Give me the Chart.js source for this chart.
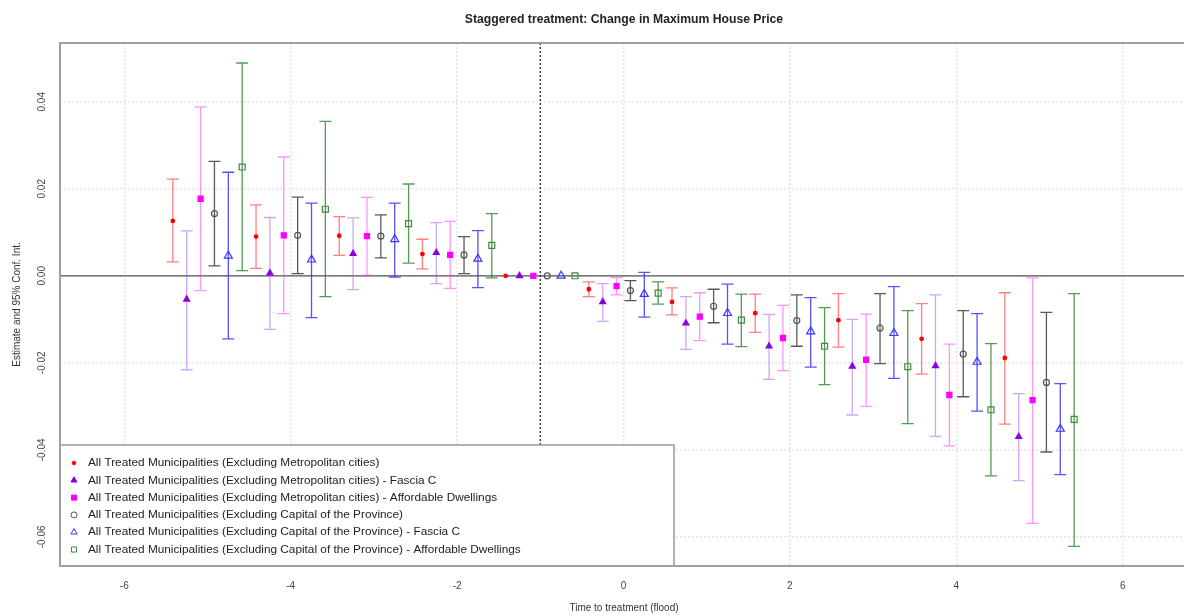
<!DOCTYPE html>
<html>
<head>
<meta charset="utf-8">
<script src="https://cdn.jsdelivr.net/npm/chart.js@4.4.1/dist/chart.umd.min.js"></script>
<style>
html,body{margin:0;padding:0;background:#fff;overflow:hidden}
canvas{display:block}
</style>
</head>
<body>
<canvas id="chart" width="1184" height="616"></canvas>
<script>
// periods relative to the flood
const periods=[-5,-4,-3,-2,-1,0,1,2,3,4,5];
const xTicks=[-6,-4,-2,0,2,4,6];
const yTicks=[-0.06,-0.04,-0.02,0,0.02,0.04];

const seriesNames=[
"All Treated Municipalities (Excluding Metropolitan cities)",
"All Treated Municipalities (Excluding Metropolitan cities) - Fascia C",
"All Treated Municipalities (Excluding Metropolitan cities) - Affordable Dwellings",
"All Treated Municipalities (Excluding Capital of the Province)",
"All Treated Municipalities (Excluding Capital of the Province) - Fascia C",
"All Treated Municipalities (Excluding Capital of the Province) - Affordable Dwellings"
];

const metroEst=[0.0126,0.0090,0.0092,0.0050,0,-0.0031,-0.0060,-0.0086,-0.0102,-0.0145,-0.0189];
const metroLo=[0.0032,0.0017,0.0047,0.0016,null,-0.0048,-0.0090,-0.0130,-0.0164,-0.0226,-0.0341];
const metroHi=[0.0222,0.0163,0.0136,0.0084,null,-0.0014,-0.0028,-0.0042,-0.0041,-0.0064,-0.0039];

const metroCEst=[-0.0054,0.0006,0.0051,0.0053,0,-0.0060,-0.0109,-0.0162,-0.0208,-0.0207,-0.0370];
const metroCLo=[-0.0216,-0.0123,-0.0032,-0.0018,null,-0.0105,-0.0169,-0.0238,-0.0320,-0.0369,-0.0471];
const metroCHi=[0.0103,0.0134,0.0133,0.0122,null,-0.0018,-0.0048,-0.0089,-0.0100,-0.0044,-0.0271];

const metroAEst=[0.0177,0.0093,0.0091,0.0048,0,-0.0024,-0.0094,-0.0143,-0.0193,-0.0274,-0.0286];
const metroALo=[-0.0034,-0.0087,0.0001,-0.0029,null,-0.0044,-0.0149,-0.0218,-0.0300,-0.0391,-0.0569];
const metroAHi=[0.0388,0.0273,0.0180,0.0125,null,-0.0004,-0.0039,-0.0068,-0.0088,-0.0157,-0.0005];

const capEst=[0.0143,0.0093,0.0091,0.0048,0,-0.0034,-0.0070,-0.0103,-0.0120,-0.0180,-0.0245];
const capLo=[0.0023,0.0005,0.0041,0.0005,null,-0.0057,-0.0108,-0.0162,-0.0202,-0.0278,-0.0405];
const capHi=[0.0263,0.0181,0.0140,0.0090,null,-0.0011,-0.0031,-0.0044,-0.0041,-0.0080,-0.0084];

const capCEst=[0.0046,0.0037,0.0084,0.0039,0,-0.0042,-0.0086,-0.0128,-0.0132,-0.0198,-0.0352];
const capCLo=[-0.0145,-0.0096,-0.0003,-0.0027,null,-0.0095,-0.0157,-0.0210,-0.0236,-0.0311,-0.0457];
const capCHi=[0.0238,0.0167,0.0167,0.0104,null,0.0008,-0.0019,-0.0050,-0.0025,-0.0087,-0.0248];

const capAEst=[0.0250,0.0153,0.0120,0.0070,0,-0.0040,-0.0102,-0.0162,-0.0209,-0.0308,-0.0330];
const capALo=[0.0012,-0.0048,0.0029,-0.0005,null,-0.0065,-0.0163,-0.0250,-0.0340,-0.0460,-0.0622];
const capAHi=[0.0489,0.0355,0.0211,0.0143,null,-0.0014,-0.0042,-0.0073,-0.0080,-0.0156,-0.0041];

const estimates=[metroEst,metroCEst,metroAEst,capEst,capCEst,capAEst];
const lows=[metroLo,metroCLo,metroALo,capLo,capCLo,capALo];
const highs=[metroHi,metroCHi,metroAHi,capHi,capCHi,capAHi];

// look of each series
const styles=[
{shape:"circle",r:1.8,fill:"#ff0000",stroke:"#ff0000",bar:"rgba(255,40,40,0.6)"},
{shape:"triangle",r:3.5,fill:"#8a00e6",stroke:"#8a00e6",bar:"rgba(160,80,230,0.5)"},
{shape:"rect",r:3.6,fill:"#ff00ff",stroke:"#ff00ff",bar:"rgba(255,60,255,0.55)"},
{shape:"circle",r:3,fill:"rgba(0,0,0,0)",stroke:"#555555",bar:"rgba(60,60,60,0.85)"},
{shape:"triangle",r:4.6,fill:"rgba(0,0,0,0)",stroke:"#3535ff",bar:"rgba(40,40,255,0.8)"},
{shape:"rect",r:4.2,fill:"rgba(0,0,0,0)",stroke:"#3b8c3b",bar:"rgba(40,130,40,0.8)"}
];

const shift=k=>(k-2.5)/6;

const datasets=estimates.map((est,k)=>({
label:seriesNames[k],
data:periods.map((p,i)=>({x:p+shift(k),y:est[i],lo:lows[k][i],hi:highs[k][i]})),
pointStyle:styles[k].shape,
pointRadius:styles[k].r,
pointBackgroundColor:styles[k].fill,
pointBorderColor:styles[k].stroke,
pointBorderWidth:1.2,
showLine:false
}));

const font="'Liberation Sans', Arial, sans-serif";

const errorBars={
id:"errorBars",
beforeDatasetsDraw(chart){
const {ctx,chartArea,scales:{x,y}}=chart;
ctx.save();
// zero line
ctx.strokeStyle="#555";
ctx.lineWidth=1.3;
ctx.beginPath();
ctx.moveTo(chartArea.left,y.getPixelForValue(0));
ctx.lineTo(chartArea.right+10,y.getPixelForValue(0));
ctx.stroke();
// treatment line
ctx.setLineDash([2,2]);
ctx.strokeStyle="#333";
ctx.lineWidth=1.5;
ctx.beginPath();
ctx.moveTo(x.getPixelForValue(-1),chartArea.top);
ctx.lineTo(x.getPixelForValue(-1),chartArea.bottom);
ctx.stroke();
ctx.setLineDash([]);
chart.data.datasets.forEach((ds,k)=>{
ctx.strokeStyle=styles[k].bar;
ctx.lineWidth=1.3;
ds.data.forEach(d=>{
if(d.lo==null||d.hi==null)return;
const px=x.getPixelForValue(d.x);
const y1=y.getPixelForValue(d.lo);
const y2=y.getPixelForValue(d.hi);
ctx.beginPath();
ctx.moveTo(px,y1);ctx.lineTo(px,y2);
ctx.moveTo(px-6,y1);ctx.lineTo(px+6,y1);
ctx.moveTo(px-6,y2);ctx.lineTo(px+6,y2);
ctx.stroke();
});
});
ctx.restore();
}
};

const decor={
id:"decor",
afterDraw(chart){
const {ctx,chartArea,scales:{y}}=chart;
ctx.save();
// y tick labels, rotated like base R
ctx.fillStyle="#444";
ctx.font="10px "+font;
ctx.textAlign="center";
ctx.textBaseline="middle";
yTicks.forEach(v=>{
ctx.save();
ctx.translate(42,y.getPixelForValue(v));
ctx.rotate(-Math.PI/2);
ctx.fillText(v.toFixed(2),0,0);
ctx.restore();
});
// axis titles
ctx.fillStyle="#333";
ctx.fillText("Time to treatment (flood)",624,608);
ctx.save();
ctx.translate(17,(chartArea.top+chartArea.bottom)/2);
ctx.rotate(-Math.PI/2);
ctx.fillText("Estimate and 95% Conf. Int.",0,0);
ctx.restore();
// main title
ctx.fillStyle="#222";
ctx.font="bold 12.2px "+font;
ctx.fillText("Staggered treatment: Change in Maximum House Price",624,20);
// legend box
const lx=chartArea.left,ly=445,lw=614,lh=chartArea.bottom-445;
ctx.fillStyle="#fff";
ctx.fillRect(lx,ly,lw,lh);
ctx.strokeStyle="#999";
ctx.lineWidth=1.5;
ctx.strokeRect(lx,ly,lw,lh);
ctx.font="11.8px "+font;
ctx.textAlign="left";
seriesNames.forEach((name,k)=>{
const yy=463+k*17.3;
ctx.fillStyle=styles[k].fill;
ctx.strokeStyle=styles[k].stroke;
ctx.lineWidth=1;
Chart.helpers.drawPoint(ctx,{pointStyle:styles[k].shape,radius:Math.min(styles[k].r,3.6),rotation:0,borderWidth:1},74,yy);
ctx.fillStyle="#222";
ctx.fillText(name,88,yy);
});
// frame
ctx.strokeStyle="#a0a0a0";
ctx.lineWidth=2;
ctx.beginPath();
ctx.moveTo(chartArea.right+5,chartArea.top);
ctx.lineTo(chartArea.left,chartArea.top);
ctx.lineTo(chartArea.left,chartArea.bottom);
ctx.lineTo(chartArea.right+5,chartArea.bottom);
ctx.stroke();
ctx.restore();
}
};

new Chart(document.getElementById("chart"),{
type:"scatter",
data:{datasets},
options:{
responsive:false,
animation:false,
devicePixelRatio:1,
layout:{autoPadding:false,padding:{top:43,left:0,right:0,bottom:0}},
plugins:{legend:{display:false},tooltip:{enabled:false}},
scales:{
x:{
type:"linear",min:-6.773,max:6.737,
afterBuildTicks:s=>{s.ticks=xTicks.map(v=>({value:v}))},
afterFit:s=>{s.height=50;s.paddingLeft=0;s.paddingRight=0},
grid:{color:"#e4e4e4",lineWidth:1.5,drawTicks:false},
border:{display:false,dash:[2,2]},
ticks:{padding:14,color:"#444",maxRotation:0,font:{family:font,size:10},callback:v=>String(v)}
},
y:{
type:"linear",min:-0.0667,max:0.0535,
afterBuildTicks:s=>{s.ticks=yTicks.map(v=>({value:v}))},
afterFit:s=>{s.width=60;s.paddingTop=0;s.paddingBottom=0},
grid:{color:"#e4e4e4",lineWidth:1.5,drawTicks:false},
border:{display:false,dash:[2,2]},
ticks:{display:false}
}
}
},
plugins:[errorBars,decor]
});
</script>
</body>
</html>
